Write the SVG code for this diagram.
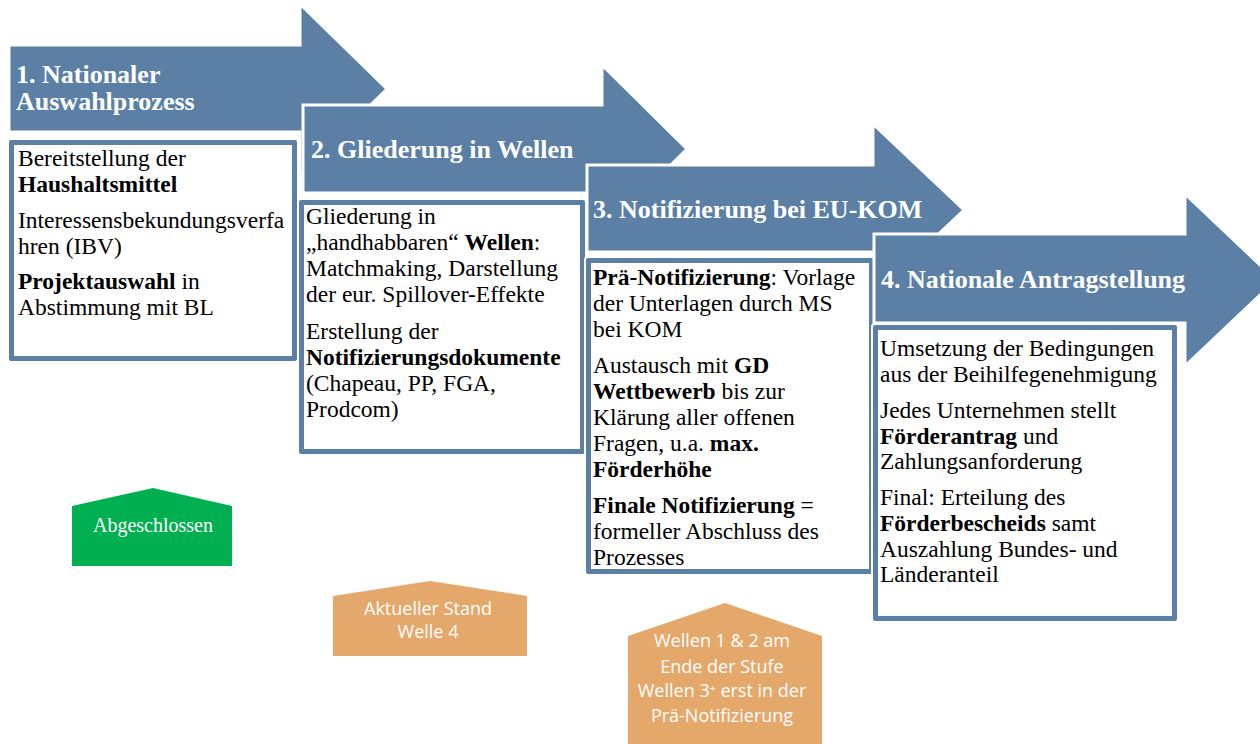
<svg xmlns="http://www.w3.org/2000/svg" width="1260" height="744" viewBox="0 0 1260 744">
<style>
.arr{fill:#5B7FA5;stroke:#fff;stroke-width:3;stroke-linejoin:miter}
.bo{fill:#5B7FA5;stroke:#fff;stroke-width:2}
.bi{fill:#fff}
.ttl{font-family:"Liberation Serif","Times New Roman",serif;font-weight:bold;font-size:26px;fill:#fff}
.tx{font-family:"Liberation Serif","Times New Roman",serif;font-size:23.5px;fill:#000}
.b{font-weight:bold}
.gr{fill:#00B050}
.or{fill:#E4A86B}
.bt{font-family:"Liberation Serif","Times New Roman",serif;font-size:20px;fill:#fff;text-anchor:middle}
.st{font-family:"Open Sans","Lato",sans-serif;font-size:18px;fill:#fff;text-anchor:middle}
</style>
<rect width="1260" height="744" fill="#fff"/>
<g id="connectors"/>
<g id="step1">
<polygon class="arr" points="9,45 300,45 300,4 387,89 300,174 300,132 9,132"/>
<text class="ttl" x="16" y="83">1. Nationaler</text>
<text class="ttl" x="16" y="110">Auswahlprozess</text>
</g>
<g id="box1">
<rect class="bo" x="8" y="139" width="290" height="223" rx="3"/>
<rect class="bi" x="14" y="145" width="278" height="211"/>
<text class="tx" x="18" y="166">Bereitstellung der</text>
<text class="tx b" x="18" y="192">Haushaltsmittel</text>
<text class="tx" x="18" y="228">Interessensbekundungsverfa</text>
<text class="tx" x="18" y="254">hren (IBV)</text>
<text class="tx" x="18" y="289"><tspan class="b">Projektauswahl</tspan> in</text>
<text class="tx" x="18" y="315">Abstimmung mit BL</text>
</g>
<g id="step2">
<polygon class="arr" points="303,105 602,105 602,65 687,149 602,233 602,193 303,193"/>
<text class="ttl" x="311" y="158">2. Gliederung in Wellen</text>
</g>
<g id="box2">
<rect class="bo" x="298" y="199" width="288" height="256" rx="3"/>
<rect class="bi" x="304" y="205" width="276" height="244"/>
<text class="tx" x="306" y="224">Gliederung in</text>
<text class="tx" x="306" y="250">„handhabbaren“ <tspan class="b">Wellen</tspan>:</text>
<text class="tx" x="306" y="276">Matchmaking, Darstellung</text>
<text class="tx" x="306" y="302">der eur. Spillover-Effekte</text>
<text class="tx" x="306" y="339">Erstellung der</text>
<text class="tx b" x="306" y="365">Notifizierungsdokumente</text>
<text class="tx" x="306" y="391">(Chapeau, PP, FGA,</text>
<text class="tx" x="306" y="417">Prodcom)</text>
</g>
<g id="step3">
<polygon class="arr" points="587,165 873,165 873,124 964,210 873,296 873,252 587,252"/>
<text class="ttl" x="593" y="218">3. Notifizierung bei EU-KOM</text>
</g>
<g id="box3">
<rect class="bo" x="585" y="257" width="290" height="318" rx="3"/>
<rect class="bi" x="591" y="263" width="278" height="306"/>
<text class="tx" x="593" y="285"><tspan class="b">Prä-Notifizierung</tspan>: Vorlage</text>
<text class="tx" x="593" y="311">der Unterlagen durch MS</text>
<text class="tx" x="593" y="337">bei KOM</text>
<text class="tx" x="593" y="373">Austausch mit <tspan class="b">GD</tspan></text>
<text class="tx" x="593" y="399"><tspan class="b">Wettbewerb</tspan> bis zur</text>
<text class="tx" x="593" y="425">Klärung aller offenen</text>
<text class="tx" x="593" y="451">Fragen, u.a. <tspan class="b">max.</tspan></text>
<text class="tx b" x="593" y="477">Förderhöhe</text>
<text class="tx" x="593" y="513"><tspan class="b">Finale Notifizierung</tspan> =</text>
<text class="tx" x="593" y="539">formeller Abschluss des</text>
<text class="tx" x="593" y="565">Prozesses</text>
</g>
<g id="step4">
<polygon class="arr" points="874,234 1185,234 1185,194 1276,280 1185,366 1185,323 874,323"/>
<text class="ttl" x="881" y="288">4. Nationale Antragstellung</text>
</g>
<g id="box4">
<rect class="bo" x="872" y="324" width="306" height="298" rx="3"/>
<rect class="bi" x="878" y="330" width="294" height="286"/>
<text class="tx" x="880" y="356">Umsetzung der Bedingungen</text>
<text class="tx" x="880" y="382">aus der Beihilfegenehmigung</text>
<text class="tx" x="880" y="418">Jedes Unternehmen stellt</text>
<text class="tx" x="880" y="444"><tspan class="b">Förderantrag</tspan> und</text>
<text class="tx" x="880" y="469">Zahlungsanforderung</text>
<text class="tx" x="880" y="505">Final: Erteilung des</text>
<text class="tx" x="880" y="531"><tspan class="b">Förderbescheids</tspan> samt</text>
<text class="tx" x="880" y="557">Auszahlung Bundes- und</text>
<text class="tx" x="880" y="582">Länderanteil</text>
</g>
<g id="status1">
<polygon class="gr" points="72,506 153,488 232,506 232,566 72,566"/>
<text class="bt" x="153" y="532">Abgeschlossen</text>
</g>
<g id="status2">
<polygon class="or" points="333,596 430,581 527,596 527,656 333,656"/>
<text class="st" x="428" y="615">Aktueller Stand</text>
<text class="st" x="428" y="638">Welle 4</text>
</g>
<g id="status3">
<polygon class="or" points="628,636 725,603 822,636 822,744 628,744"/>
<text class="st" x="722" y="647">Wellen 1 &amp; 2 am</text>
<text class="st" x="722" y="673">Ende der Stufe</text>
<text class="st" x="722" y="697">Wellen 3⁺ erst in der</text>
<text class="st" x="722" y="722">Prä-Notifizierung</text>
</g>
</svg>
